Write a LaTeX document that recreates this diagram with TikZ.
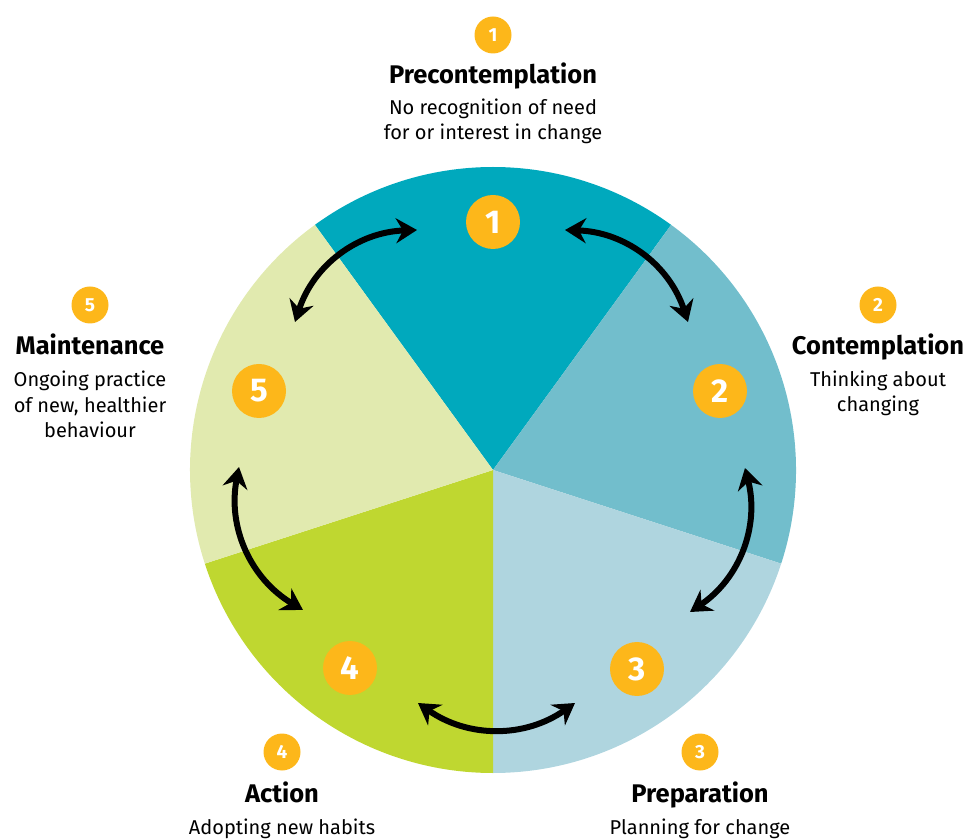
\documentclass[tikz,border=0pt]{standalone}
\usepackage{fontspec}
\setmainfont{Fira Sans}
\usetikzlibrary{arrows.meta}
\definecolor{cA}{HTML}{00A9BD}
\definecolor{cB}{HTML}{72BECC}
\definecolor{cC}{HTML}{AFD5DF}
\definecolor{cD}{HTML}{BFD730}
\definecolor{cE}{HTML}{E1EAAF}
\definecolor{badge}{HTML}{FDB71A}
\tikzset{
  bigbadge/.style={circle,fill=badge,minimum size=54pt,inner sep=0pt,text=white,font=\fontsize{33}{33}\selectfont\bfseries},
  smallbadge/.style={circle,fill=badge,minimum size=37pt,inner sep=0pt,text=white,font=\fontsize{19}{19}\selectfont\bfseries},
  stagetitle/.style={anchor=base,inner sep=0pt,font=\fontsize{25.5}{25.5}\selectfont\bfseries},
  stagebody/.style={anchor=base,inner sep=0pt,align=center,font=\fontsize{20}{25.5}\selectfont},
  cyclearrow/.style={line width=6pt,{Stealth[length=21pt,width=25pt,inset=7pt]}-{Stealth[length=21pt,width=25pt,inset=7pt]}},
}
\begin{document}
\begin{tikzpicture}[x=1pt,y=1pt]
\useasboundingbox (0,0) rectangle (963,838);
\coordinate (C) at (493,368);
% sectors
\fill[cA] (C) -- ++(54:303) arc[start angle=54,end angle=126,radius=303] -- cycle;
\fill[cB] (C) -- ++(-18:303) arc[start angle=-18,end angle=54,radius=303] -- cycle;
\fill[cC] (C) -- ++(-90:303) arc[start angle=-90,end angle=-18,radius=303] -- cycle;
\fill[cD] (C) -- ++(-162:303) arc[start angle=-162,end angle=-90,radius=303] -- cycle;
\fill[cE] (C) -- ++(126:303) arc[start angle=126,end angle=198,radius=303] -- cycle;
% inner badges
\node[bigbadge] (n1) at (493,616) {1};
\node[bigbadge] (n2) at (720,447) {2};
\node[bigbadge] (n3) at (637,169) {3};
\node[bigbadge] (n4) at (350,170) {4};
\node[bigbadge] (n5) at (259,447) {5};
% arrow end points
\coordinate (a5s) at (295,516);
\coordinate (a5e) at (417,608);
\coordinate (a1s) at (565,608);
\coordinate (a1e) at (688,516);
\coordinate (a2s) at (745,370);
\coordinate (a2e) at (690,226);
\coordinate (a3s) at (575,135);
\coordinate (a3e) at (418,135);
\coordinate (a4s) at (303,228);
\coordinate (a4e) at (239,371);
\draw[cyclearrow] (a5s) to[bend left=35] (a5e);
\draw[cyclearrow] (a1s) to[bend left=35] (a1e);
\draw[cyclearrow] (a2s) to[bend left=35] (a2e);
\draw[cyclearrow] (a3s) to[bend left=35] (a3e);
\draw[cyclearrow] (a4s) to[bend left=35] (a4e);
% outer labels
\node[smallbadge] (o1) at (493,803) {1};
\node[stagetitle] (t1) at (493,754) {Precontemplation};
\node[stagebody] (b1) at (493,698) {No recognition of need\\for or interest in change};
\node[smallbadge] (o2) at (878,533) {2};
\node[stagetitle] (t2) at (878,483) {Contemplation};
\node[stagebody] (b2) at (878,426) {Thinking about\\changing};
\node[smallbadge] (o5) at (90,533) {5};
\node[stagetitle] (t5) at (90,483) {Maintenance};
\node[stagebody] (b5) at (90,400) {Ongoing practice\\of new, healthier\\behaviour};
\node[smallbadge] (o4) at (282,86) {4};
\node[stagetitle] (t4) at (282,36) {Action};
\node[stagebody] (b4) at (282,4) {Adopting new habits};
\node[smallbadge] (o3) at (700,86) {3};
\node[stagetitle] (t3) at (700,36) {Preparation};
\node[stagebody] (b3) at (700,4) {Planning for change};
\end{tikzpicture}
\end{document}
